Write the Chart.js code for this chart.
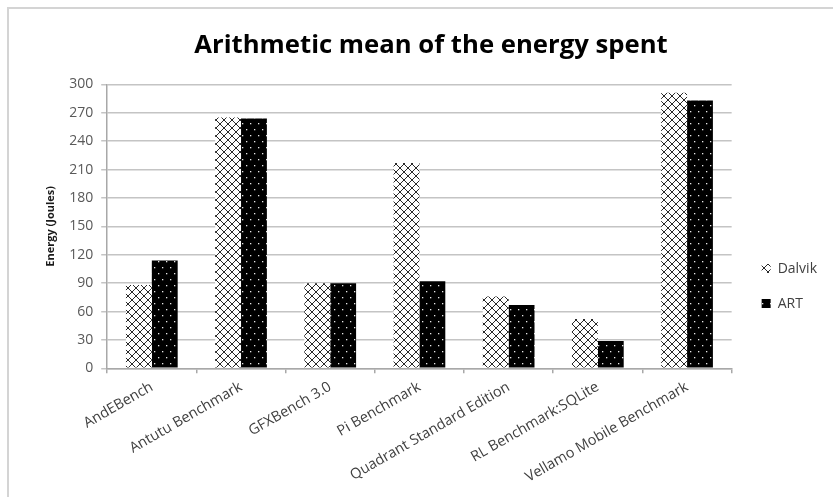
<!DOCTYPE html>
<html>
<head>
<meta charset="utf-8">
<script src="https://cdn.jsdelivr.net/npm/chart.js@4/dist/chart.umd.min.js"></script>
<style>
  html, body { margin: 0; padding: 0; background: #fff; overflow: hidden; }
  #frame { position: absolute; left: 7px; top: 7px; width: 900px; height: 600px; border: 2px solid #d4d4d4; }
  #wrap { position: absolute; left: 0; top: 0; width: 833px; height: 497px; }
</style>
</head>
<body>
<div id="frame"></div>
<div id="wrap"><canvas id="c" width="833" height="497"></canvas></div>
<script>
const categories = ["AndEBench", "Antutu Benchmark", "GFXBench 3.0", "Pi Benchmark",
  "Quadrant Standard Edition", "RL Benchmark:SQLite", "Vellamo Mobile Benchmark"];
const dalvik = [88, 265, 90, 217, 76, 52, 291];
const art = [114, 264, 90, 92, 67, 29, 283];
const seriesNames = ["Dalvik", "ART"];
const yTicks = [0, 30, 60, 90, 120, 150, 180, 210, 240, 270, 300];

function crossPattern() {
  const t = document.createElement('canvas');
  t.width = 8; t.height = 8;
  const g = t.getContext('2d');
  g.fillStyle = '#fff'; g.fillRect(0, 0, 8, 8);
  g.strokeStyle = '#111'; g.lineWidth = 0.9;
  g.beginPath();
  g.moveTo(-1, -1); g.lineTo(9, 9);
  g.moveTo(9, -1); g.lineTo(-1, 9);
  g.stroke();
  return g.createPattern(t, 'repeat');
}
function dotPattern() {
  const t = document.createElement('canvas');
  t.width = 8; t.height = 12;
  const g = t.getContext('2d');
  g.fillStyle = '#000'; g.fillRect(0, 0, 8, 12);
  g.fillStyle = '#e8e8e8';
  g.fillRect(2, 3, 1.3, 1.3);
  g.fillRect(6, 9, 1.3, 1.3);
  return g.createPattern(t, 'repeat');
}

// nudge the legend block a few pixels to the right of the plot area
const legendNudge = {
  id: 'legendNudge',
  afterLayout(chart) {
    const lg = chart.legend;
    if (lg) { lg.left += 9; lg.right += 9; }
  }
};

const FONT = "'Open Sans', 'Noto Sans', sans-serif";
new Chart(document.getElementById('c'), {
  type: 'bar',
  data: {
    labels: categories,
    datasets: [
      { label: seriesNames[0], data: dalvik, backgroundColor: crossPattern(), borderWidth: 0 },
      { label: seriesNames[1], data: art, backgroundColor: dotPattern(), borderWidth: 0 }
    ]
  },
  plugins: [legendNudge],
  options: {
    responsive: false,
    animation: false,
    devicePixelRatio: 1,
    layout: { padding: { left: 44, right: 15, top: 0, bottom: 6 } },
    datasets: { bar: { barPercentage: 1.0, categoryPercentage: 0.58 } },
    plugins: {
      title: {
        display: true,
        text: 'Arithmetic mean of the energy spent',
        color: '#000',
        font: { family: FONT, size: 25.7, weight: 'bold' },
        padding: { top: 30, bottom: 23.5 }
      },
      legend: {
        position: 'right',
        title: { display: true, text: '', font: { size: 1 }, padding: { top: 0, bottom: 80 } },
        labels: {
          color: '#404040',
          font: { family: FONT, size: 14 },
          boxWidth: 9, boxHeight: 9,
          padding: 21
        }
      },
      tooltip: { enabled: false }
    },
    scales: {
      x: {
        offset: true,
        grid: { drawOnChartArea: false, drawTicks: true, tickLength: 5, color: '#a8a8a8', lineWidth: 1.5 },
        border: { color: '#a8a8a8', width: 1.5 },
        ticks: {
          color: '#404040',
          font: { family: FONT, size: 14.5 },
          minRotation: 30, maxRotation: 30, autoSkip: false, padding: 5
        }
      },
      y: {
        min: 0, max: 300,
        afterBuildTicks: (axis) => { axis.ticks = yTicks.map(v => ({ value: v })); },
        grid: { color: '#c4c4c4', lineWidth: 1.5, tickLength: 6, drawTicks: true },
        border: { color: '#a8a8a8', width: 1.5 },
        ticks: { color: '#595959', font: { family: FONT, size: 14 }, padding: 8 },
        title: {
          display: true, text: 'Energy (Joules)', color: '#1a1a1a',
          font: { family: FONT, size: 11, weight: 'bold' }, padding: { top: 0, bottom: 4 }
        }
      }
    }
  }
});
</script>
</body>
</html>
